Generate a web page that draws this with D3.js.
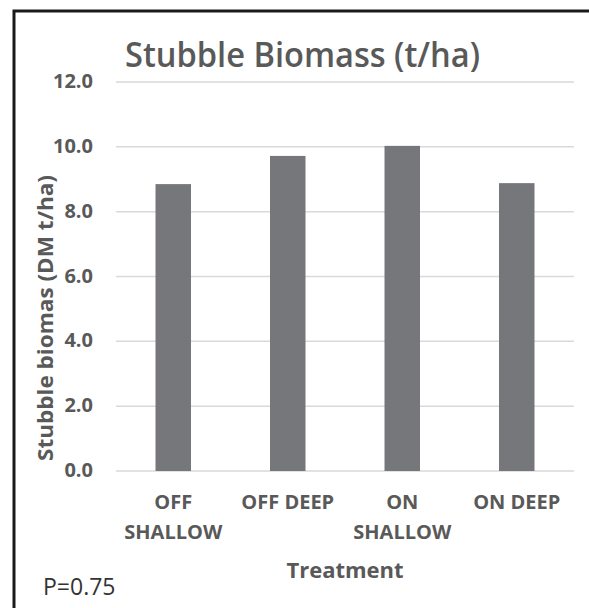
<!DOCTYPE html>
<html>
<head>
<meta charset="utf-8">
<script src="https://cdn.jsdelivr.net/npm/d3@7"></script>
<style>
  body { margin: 0; background: #fff; }
  text { font-family: "Open Sans", "Noto Sans", sans-serif; }
  .tick-label { font-size: 20px; font-weight: 700; fill: #595959; }
  .cat-label { font-size: 20px; font-weight: 700; fill: #595959; }
  .chart-title { font-size: 34px; font-weight: 600; fill: #595959; }
  .axis-label { font-size: 22px; font-weight: 700; fill: #595959; }
  .note { font-size: 23px; fill: #333; }
</style>
</head>
<body>
<div id="chart"></div>
<script>
// Data
const categories = [["OFF", "SHALLOW"], ["OFF DEEP"], ["ON", "SHALLOW"], ["ON DEEP"]];
const biomass = [8.85, 9.72, 10.03, 8.88];
const yTicks = [0, 2, 4, 6, 8, 10, 12];

const svgWidth = 589, svgHeight = 608;
const plot = { left: 116, right: 574, top: 82, bottom: 471 };

const svg = d3.select("#chart")
  .append("svg")
  .attr("width", svgWidth)
  .attr("height", svgHeight);

// Frame
svg.append("path")
  .attr("d", `M14,${svgHeight + 5} L14,11 L${svgWidth + 5},11`)
  .attr("fill", "none")
  .attr("stroke", "#1a1a1a")
  .attr("stroke-width", 3);

// Scales
const keys = categories.map((d, i) => i);
const xScale = d3.scaleBand()
  .domain(keys)
  .range([plot.left, plot.right])
  .paddingInner(0.69)
  .paddingOuter(0.345);

const yScale = d3.scaleLinear()
  .domain([0, 12])
  .range([plot.bottom, plot.top]);

// Gridlines
svg.append("g")
  .selectAll("line")
  .data(yTicks)
  .join("line")
  .attr("x1", plot.left)
  .attr("x2", plot.right)
  .attr("y1", d => yScale(d))
  .attr("y2", d => yScale(d))
  .attr("stroke", "#d9d9d9")
  .attr("stroke-width", 1.5);

// Y tick labels
svg.append("g")
  .selectAll("text")
  .data(yTicks)
  .join("text")
  .attr("class", "tick-label")
  .attr("x", 93)
  .attr("y", d => yScale(d) - 1)
  .attr("dy", "0.35em")
  .attr("text-anchor", "end")
  .text(d => d3.format(".1f")(d));

// Bars
svg.append("g")
  .selectAll("rect")
  .data(biomass)
  .join("rect")
  .attr("x", (d, i) => xScale(i))
  .attr("y", d => yScale(d))
  .attr("width", xScale.bandwidth())
  .attr("height", d => yScale(0) - yScale(d))
  .attr("fill", "#76777b");

// Category labels
const cat = svg.append("g")
  .selectAll("text")
  .data(categories)
  .join("text")
  .attr("class", "cat-label")
  .attr("text-anchor", "middle")
  .attr("x", (d, i) => xScale(i) + xScale.bandwidth() / 2)
  .attr("y", 509);

cat.selectAll("tspan")
  .data(d => d)
  .join("tspan")
  .attr("x", function () { return d3.select(this.parentNode).attr("x"); })
  .attr("dy", (d, i) => i === 0 ? 0 : 30)
  .text(d => d);

// Title
svg.append("text")
  .attr("class", "chart-title")
  .attr("x", 125)
  .attr("y", 67)
  .attr("textLength", 355)
  .attr("lengthAdjust", "spacingAndGlyphs")
  .text("Stubble Biomass (t/ha)");

// Axis titles
svg.append("text")
  .attr("class", "axis-label")
  .attr("transform", "translate(53, 318) rotate(-90)")
  .attr("text-anchor", "middle")
  .attr("textLength", 286)
  .attr("lengthAdjust", "spacingAndGlyphs")
  .text("Stubble biomas (DM t/ha)");

svg.append("text")
  .attr("class", "axis-label")
  .attr("x", 345)
  .attr("y", 578)
  .attr("text-anchor", "middle")
  .text("Treatment");

// P value note
svg.append("text")
  .attr("class", "note")
  .attr("x", 43)
  .attr("y", 595)
  .text("P=0.75");
</script>
</body>
</html>
